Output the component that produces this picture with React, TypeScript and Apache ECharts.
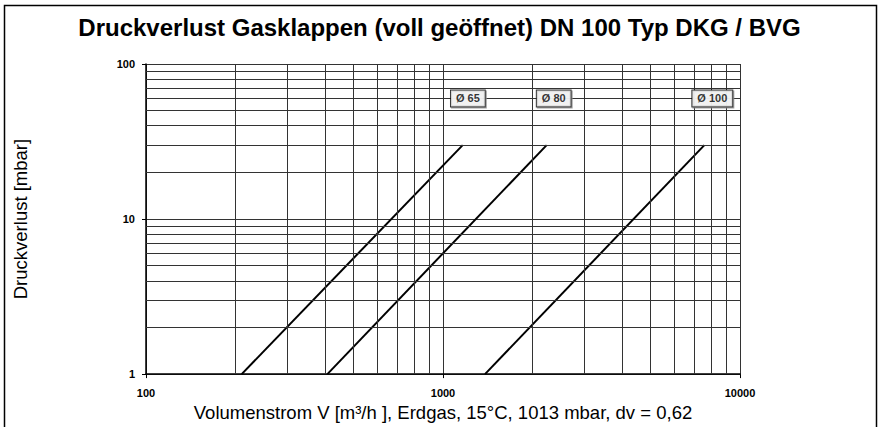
import React, { useEffect, useRef } from "react";
import * as echarts from "echarts";

const titleText = "Druckverlust Gasklappen (voll geöffnet) DN 100 Typ DKG / BVG";
const xAxisName = "Volumenstrom V [m³/h ], Erdgas, 15°C, 1013 mbar, dv = 0,62";
const yAxisName = "Druckverlust [mbar]";

// Series: [Volumenstrom m³/h, Druckverlust mbar]
const seriesNames = ["Ø 65", "Ø 80", "Ø 100"];
const dn65: number[][] = [[210, 1], [1165, 30]];
const dn80: number[][] = [[408, 1], [2234, 30]];
const dn100: number[][] = [[1385, 1], [7586, 30]];
const seriesData = [dn65, dn80, dn100];

// label positions [x, y]
const labelPos: number[][] = [[1213, 60], [2360, 60], [8070, 60]];

// minor grid values
const xMinor = [200, 300, 400, 500, 600, 700, 800, 900, 2000, 3000, 4000, 5000, 6000, 7000, 8000, 9000];
const yMinor = [2, 3, 4, 5, 6, 7, 8, 9, 20, 30, 40, 50, 60, 70, 80, 90];

const FONT = "'Liberation Sans', Arial, sans-serif";

export default function App() {
  const ref = useRef<HTMLDivElement>(null);
  useEffect(() => {
    if (!ref.current) return;
    const chart = echarts.init(ref.current, null, { renderer: "svg" });
    const gridColor = "#333";
    const markData: any[] = [
      ...xMinor.map((v) => ({ xAxis: v })),
      ...yMinor.map((v) => ({ yAxis: v })),
    ];
    chart.setOption({
      animation: false,
      backgroundColor: "#fff",
      title: {
        text: titleText,
        left: "center",
        top: 10,
        textStyle: { fontFamily: FONT, fontSize: 24, fontWeight: "bold", color: "#000" },
      },
      graphic: [
        {
          type: "rect",
          shape: { x: 4.5, y: 5.5, width: 872, height: 440 },
          style: { fill: "none", stroke: "#000", lineWidth: 1.5 },
          silent: true,
          z: 0,
        },
      ],
      grid: { left: 146, right: 139, top: 64, bottom: 47 },
      xAxis: {
        type: "log",
        logBase: 10,
        min: 100,
        max: 10000,
        name: xAxisName,
        nameLocation: "middle",
        nameGap: 25,
        nameTextStyle: { fontFamily: FONT, fontSize: 18.5, color: "#000" },
        axisLine: { show: true, lineStyle: { color: "#000", width: 1.5 } },
        axisTick: { show: true, length: 4, lineStyle: { color: "#000" } },
        axisLabel: {
          fontFamily: FONT,
          fontSize: 11,
          fontWeight: "bold",
          color: "#000",
          margin: 13,
          formatter: (v: number) => String(Math.round(v)),
        },
        splitLine: { show: true, lineStyle: { color: gridColor, width: 1 } },
      },
      yAxis: {
        type: "log",
        logBase: 10,
        min: 1,
        max: 100,
        name: yAxisName,
        nameLocation: "middle",
        nameGap: 116,
        nameRotate: 90,
        nameTextStyle: { fontFamily: FONT, fontSize: 18.5, color: "#000" },
        axisLine: { show: true, lineStyle: { color: "#000", width: 1.5 } },
        axisTick: { show: true, length: 4, lineStyle: { color: "#000" } },
        axisLabel: {
          fontFamily: FONT,
          fontSize: 11,
          fontWeight: "bold",
          color: "#000",
          margin: 11,
          formatter: (v: number) => String(Math.round(v)),
        },
        splitLine: { show: true, lineStyle: { color: gridColor, width: 1 } },
      },
      series: [
        {
          type: "line",
          name: "grid",
          data: [],
          silent: true,
          z: 1,
          markLine: {
            silent: true,
            symbol: ["none", "none"],
            label: { show: false },
            lineStyle: { color: gridColor, width: 1, type: "solid" },
            emphasis: { disabled: true },
            data: markData,
          },
        },
        ...seriesData.map((d, i) => ({
          type: "line",
          name: seriesNames[i],
          data: d,
          symbol: "none",
          z: 3,
          lineStyle: { color: "#000", width: 2 },
        })),
        {
          type: "scatter",
          name: "labels",
          z: 5,
          symbolSize: 0,
          data: labelPos.map((p, i) => [p[0], p[1], seriesNames[i]]),
          label: {
            show: true,
            position: "inside",
            formatter: (p: any) => p.value[2],
            fontFamily: FONT,
            fontSize: 11,
            fontWeight: "bold",
            color: "#000",
            backgroundColor: "#fff",
            borderColor: "#000",
            borderWidth: 1,
            padding: [3, 5, 2, 5],
            shadowColor: "#888",
            shadowOffsetX: 1,
            shadowOffsetY: 1,
            shadowBlur: 0,
          },
        },
      ],
    });
    return () => chart.dispose();
  }, []);
  return (
    <div
      ref={ref}
      style={{ position: "absolute", left: 0, top: 0, width: 879, height: 427 }}
    />
  );
}
